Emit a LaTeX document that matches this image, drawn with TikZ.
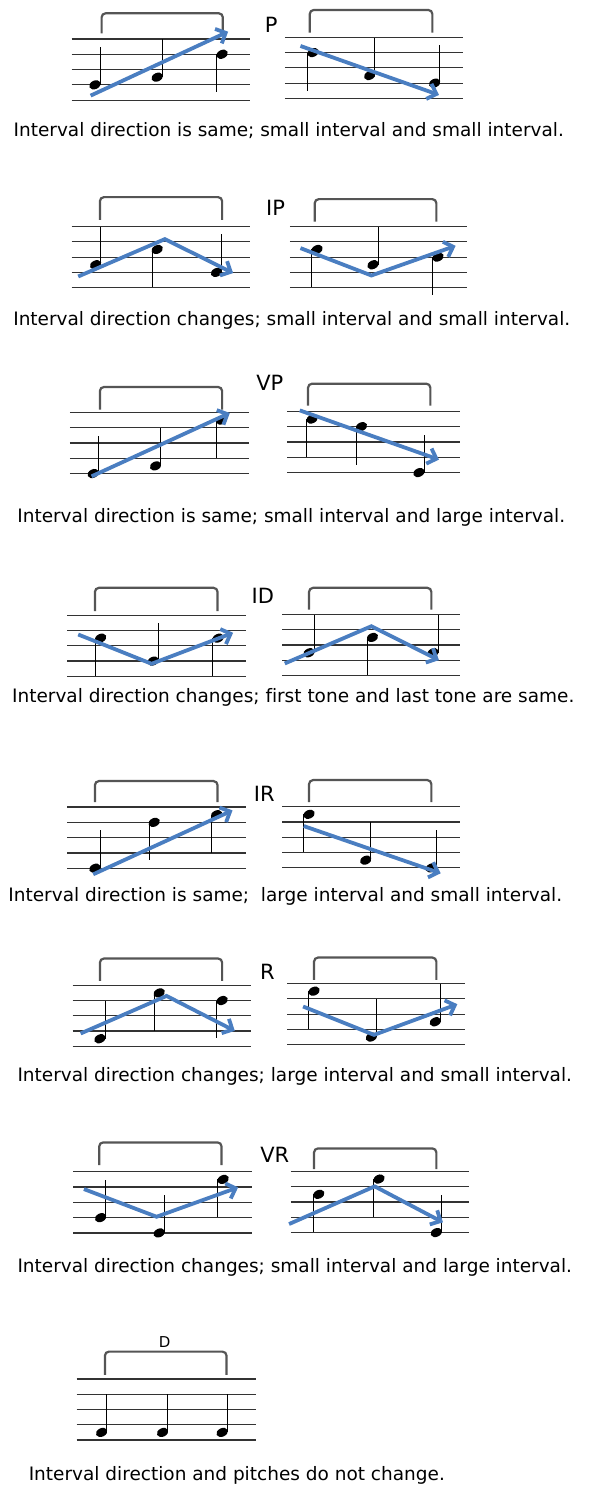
\documentclass[tikz,border=0pt]{standalone}
\usepackage{fontspec}
\setmainfont{DejaVu Sans}[Ligatures=NoCommon]
\usetikzlibrary{shapes.geometric,arrows.meta}
\definecolor{melodyblue}{RGB}{74,126,193}
\definecolor{bracketgray}{RGB}{85,85,85}

\begin{document}
\begin{tikzpicture}[x=1pt,y=-1pt,
    staffline/.style={black!80, line width=1.2pt},
    stem/.style={black, line width=0.9pt},
    bracket/.style={bracketgray, line width=2.2pt, rounded corners=4pt},
    notehead/.style={ellipse, fill=black, inner sep=0pt, minimum width=12pt, minimum height=8.5pt, rotate=25},
    melody/.style={melodyblue, line width=3.8pt, -{Straight Barb[length=8pt,width=16pt]}},
    typelabel/.style={anchor=base, font=\fontsize{21}{25}\selectfont},
    captiontext/.style={anchor=base, font=\fontsize{18.5}{22}\selectfont}]
    \fill[white] (0,0) rectangle (592,1488);

    % Draw staves
    \foreach \xa/\xb/\yt in {71.7/250/39, 285/463.3/37.3, 71.7/250/226.7, 290/467.3/226.7,
            70/249/412.7, 287.7/460/411.7, 67.3/245.7/615.7, 282.7/460/615,
            67.3/245.7/807.7, 282.7/460.7/807.3, 72.7/250.7/986, 287.7/465.7/984.3,
            73.3/252.3/1172.7, 291/469/1172.3, 76.7/255.7/1380} {
        \foreach \k in {0,...,4}
            \draw[staffline] (\xa,\yt+\k*15.3) -- (\xb,\yt+\k*15.3);
    }

    % Draw brackets
    \foreach \xa/\xb/\yt/\yb in {101.7/223/13.3/33.3, 310/432.7/10/32.7, 100/222.3/197.3/220,
            315/436.7/199.3/221.7, 100/222.3/387.3/410, 308.3/430.7/384/406,
            95/217.7/588.3/611.7, 309.3/431.7/588.3/610, 95/217.7/781.7/802.7,
            309.3/431.7/780.7/802.7, 100/222.3/959.3/981.7, 314.3/436.7/958.3/980.7,
            99.3/221.7/1143.3/1166, 314.3/436.7/1149.3/1170, 105/226.7/1352.7/1376}
        \draw[bracket] (\xa,\yb) -- (\xa,\yt) -- (\xb,\yt) -- (\xb,\yb);

    % Draw notes: name/x/top line/step/stem (1 up, -1 down)
    \foreach \n/\x/\yt/\p/\d in {n1a/95/39/6/1, n1b/157.3/39/5/1, n1c/222.3/39/2/-1,
            n1d/313.3/37.3/2/-1, n1e/370/37.3/5/1, n1f/435/37.3/6/1,
            n2a/95.7/226.7/5/1, n2b/157.3/226.7/3/-1, n2c/216.7/226.7/6/1,
            n2d/317.3/226.7/3/-1, n2e/373.3/226.7/5/1, n2f/438.3/226.7/4/-1,
            n3a/93.3/412.7/8/1, n3b/155.7/412.7/7/1, n3c/221.7/412.7/1/-1,
            n3d/312.3/411.7/1/-1, n3e/361.7/411.7/2/-1, n3f/419.3/411.7/8/1,
            n4a/100.7/615.7/3/-1, n4b/153.3/615.7/6/1, n4c/218.3/615.7/3/-1,
            n4d/309.3/615/5/1, n4e/372.7/615/3/-1, n4f/433.3/615/5/1,
            n5a/95/807.7/8/1, n5b/154.3/807.7/2/-1, n5c/216.7/807.7/1/-1,
            n5d/309.3/807.3/1/-1, n5e/366/807.3/7/1, n5f/431.7/807.3/8/1,
            n6a/100/986/7/1, n6b/159.3/986/1/-1, n6c/222.3/986/2/-1,
            n6d/314.3/984.3/1/-1, n6e/371.7/984.3/7/1, n6f/435.7/984.3/5/1,
            n7a/100.7/1172.7/6/1, n7b/159.3/1172.7/8/1, n7c/223.3/1172.7/1/-1,
            n7d/319/1172.3/3/-1, n7e/379.3/1172.3/1/-1, n7f/436.7/1172.3/8/1,
            n8a/101.7/1380/7/1, n8b/162.7/1380/7/1, n8c/222.3/1380/7/1} {
        \node[notehead] (\n) at (\x,\yt+\p*7.65) {};
        \draw[stem] (\x+5.2*\d,\yt+\p*7.65) -- ++(0,-38*\d);
    }

    % Melody points
    \foreach \m/\x/\y in {m1a/90.7/95.7, m1b/228.3/31.7, m1c/300.7/46, m1d/439.3/95,
            m2a/78.3/276.7, m2b/165/239.3, m2c/233.3/273.3,
            m2d/300.7/248.3, m2e/371.7/275.7, m2f/456/246,
            m3a/91.7/476.7, m3b/230/413.3, m3c/300/410.7, m3d/439.3/460,
            m4a/78.3/635, m4b/151.7/664.3, m4c/233.3/633.3,
            m4d/285/664, m4e/371.7/626.7, m4f/439.3/660.7,
            m5a/93.3/875, m5b/232.7/811, m5c/304/826.7, m5d/441/874,
            m6a/80.7/1034.3, m6b/166.7/996.7, m6c/235/1031.7,
            m6d/303.3/1007.3, m6e/374.3/1035.7, m6f/457.7/1005,
            m7a/84/1190, m7b/156.7/1217.7, m7c/238.3/1188.3,
            m7d/289.3/1225, m7e/375/1187.3, m7f/443.3/1223.3}
        \coordinate (\m) at (\x,\y);

    % Draw melody arrows
    \draw[melody] (m1a) -- (m1b);
    \draw[melody] (m1c) -- (m1d);
    \draw[melody] (m2a) -- (m2b) -- (m2c);
    \draw[melody] (m2d) -- (m2e) -- (m2f);
    \draw[melody] (m3a) -- (m3b);
    \draw[melody] (m3c) -- (m3d);
    \draw[melody] (m4a) -- (m4b) -- (m4c);
    \draw[melody] (m4d) -- (m4e) -- (m4f);
    \draw[melody] (m5a) -- (m5b);
    \draw[melody] (m5c) -- (m5d);
    \draw[melody] (m6a) -- (m6b) -- (m6c);
    \draw[melody] (m6d) -- (m6e) -- (m6f);
    \draw[melody] (m7a) -- (m7b) -- (m7c);
    \draw[melody] (m7d) -- (m7e) -- (m7f);

    % Type labels
    \node[typelabel] (lP) at (271.5,33) {P};
    \node[typelabel] (lIP) at (275.8,216) {IP};
    \node[typelabel] (lVP) at (270,390.5) {VP};
    \node[typelabel] (lID) at (263,603.5) {ID};
    \node[typelabel] (lIR) at (264.5,801.7) {IR};
    \node[typelabel] (lR) at (267.5,980) {R};
    \node[typelabel] (lVR) at (275,1163.5) {VR};
    \node[typelabel, font=\fontsize{15}{18}\selectfont] (lD) at (164.7,1349) {D};

    % Captions
    \node[captiontext] (t1) at (289,137) {Interval direction is same; small interval and small interval.};
    \node[captiontext] (t2) at (292,326) {Interval direction changes; small interval and small interval.};
    \node[captiontext] (t3) at (291.5,523) {Interval direction is same; small interval and large interval.};
    \node[captiontext] (t4) at (293.5,703) {Interval direction changes; first tone and last tone are same.};
    \node[captiontext] (t5) at (285.5,902) {Interval direction is same; \ large interval and small interval.};
    \node[captiontext] (t6) at (295,1082) {Interval direction changes; large interval and small interval.};
    \node[captiontext] (t7) at (295,1273) {Interval direction changes; small interval and large interval.};
    \node[captiontext] (t8) at (237,1482) {Interval direction and pitches do not change.};
\end{tikzpicture}
\end{document}
